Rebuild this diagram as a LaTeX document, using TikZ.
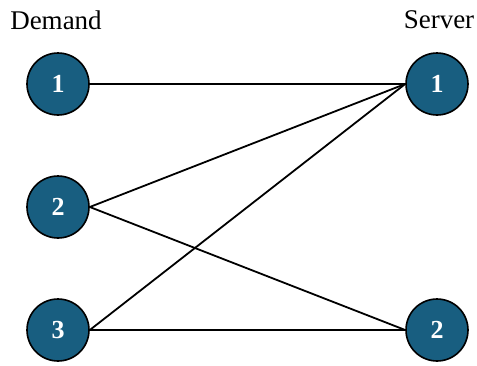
\documentclass[tikz,border=0pt]{standalone}
\usepackage{fontspec}
\setmainfont{Liberation Serif}
\definecolor{nodeblue}{HTML}{185E80}
\begin{document}
\begin{tikzpicture}[x=1pt,y=-1pt,
  vertex/.style={circle,draw=black,line width=1.6pt,fill=nodeblue,minimum size=62pt,inner sep=0pt,
    text=white,font=\fontsize{26}{26}\selectfont\bfseries},
  lbl/.style={font=\fontsize{27}{27}\selectfont,inner sep=0pt},
  edge/.style={line width=1.8pt,draw=black}]
\useasboundingbox (0,0) rectangle (477,365);
\node[lbl] (dl) at (56,20) {Demand};
\node[lbl] (sl) at (439,20) {Server};
\node[vertex] (d1) at (58,84) {1};
\node[vertex] (d2) at (58,207) {2};
\node[vertex] (d3) at (58,330) {3};
\node[vertex] (s1) at (437,84) {1};
\node[vertex] (s2) at (437,330) {2};
\draw[edge] (d1.east) -- (s1.west);
\draw[edge] (d2.east) -- (s1.west);
\draw[edge] (d3.east) -- (s1.west);
\draw[edge] (d2.east) -- (s2.west);
\draw[edge] (d3.east) -- (s2.west);
\end{tikzpicture}
\end{document}
